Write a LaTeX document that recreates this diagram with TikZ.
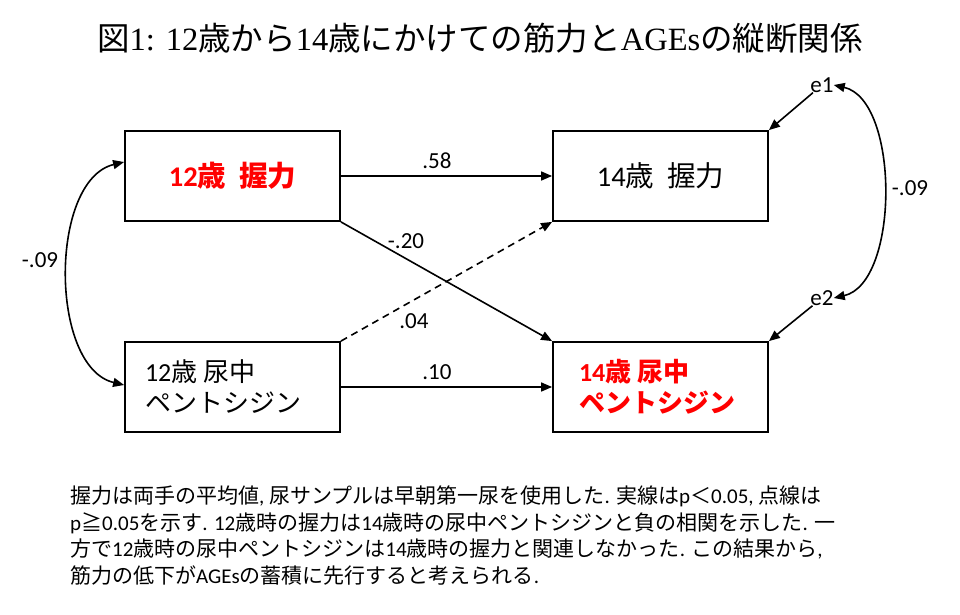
\documentclass[tikz,border=0pt]{standalone}
\usepackage{fontspec}
\setmainfont{Liberation Serif}
\newfontfamily\jp{Noto Sans CJK JP}
\newfontfamily\cl{Carlito}
\usetikzlibrary{arrows.meta,calc}
\newcommand\cw[1]{{\cl #1}}
\begin{document}
\begin{tikzpicture}[x=1pt,y=-1pt,
  box/.style={draw, line width=1.8pt, minimum width=215pt, minimum height=90pt, inner sep=0pt},
  conn/.style={line width=1.6pt, -{Triangle[length=11pt,width=9pt]}},
  biconn/.style={line width=1.6pt, {Triangle[length=11pt,width=9pt]}-{Triangle[length=11pt,width=9pt]}},
  lbl/.style={font=\cl\fontsize{23}{26}\selectfont, inner sep=0pt},
  boxtxt/.style={font=\jp\fontsize{26}{31}\selectfont},
  boxtxtb/.style={font=\jp\bfseries\fontsize{26}{31}\selectfont, text=red},
  boxbig/.style={font=\jp\fontsize{28.5}{31}\selectfont},
  boxbigb/.style={font=\jp\bfseries\fontsize{28.5}{31}\selectfont, text=red},
  captxt/.style={font=\jp\fontsize{21}{24}\selectfont, anchor=base west, inner sep=0pt}]
\useasboundingbox (0,0) rectangle (960,614);
\node[anchor=base, font=\fontsize{32.5}{36}\selectfont, inner sep=0pt] (title) at (480,50)
  {{\jp 図}1: 12{\jp 歳から}14{\jp 歳にかけての筋力と}AGEs{\jp の縦断関係}};
\node[box, boxbigb] (A) at (232.5,176) {{\cl 12}歳\hspace{0.45em}握力};
\node[box, boxbig] (B) at (660.5,176) {{\cl 14}歳\hspace{0.45em}握力};
\node[box, boxtxt, align=left, text width=175pt, inner xsep=20pt] (C) at (232.5,387)
  {{\cl 12}歳\hspace{0.25em}尿中\\ペントシジン};
\node[box, boxtxtb, align=left, text width=163pt, inner xsep=26pt] (D) at (660.5,387)
  {{\cl 14}歳\hspace{0.25em}尿中\\ペントシジン};
\node[lbl] (e1) at (822,85) {e1};
\node[lbl] (e2) at (822,298) {e2};
\draw[conn] (A.east) -- (B.west);
\draw[conn] (A.south east) -- (D.north west);
\draw[conn, dashed, dash pattern=on 7pt off 5pt] (C.north east) -- (B.south west);
\draw[conn] (C.east) -- (D.west);
\node[lbl] (l58) at (437,161) {.58};
\node[lbl] (l20) at (406,241) {-.20};
\node[lbl] (l04) at (414,321) {.04};
\node[lbl] (l10) at (437,372) {.10};
\draw[conn] (e1) -- (B.north east);
\draw[conn] (e2) -- (D.north east);
\draw[biconn] ($(A.west)+(0,-14)$) .. controls +(-75,18) and +(-75,-18) .. ($(C.west)+(0,-2)$);
\draw[biconn] (e1.east) .. controls +(66,15) and +(66,-15) .. (e2.east);
\node[lbl] (lL) at (40,260) {-.09};
\node[lbl] (lR) at (910,188) {-.09};
\node[captxt] (c1) at (70,503) {握力は両手の平均値\cw{, }尿サンプルは早朝第一尿を使用した\cw{. }実線は\cw{p}＜\cw{0.05, }点線は};
\node[captxt] (c2) at (70,530) {\cw{p}≧\cw{0.05}を示す\cw{. 12}歳時の握力は\cw{14}歳時の尿中ペントシジンと負の相関を示した\cw{. }一};
\node[captxt] (c3) at (70,556.5) {方で\cw{12}歳時の尿中ペントシジンは\cw{14}歳時の握力と関連しなかった\cw{. }この結果から\cw{,}};
\node[captxt] (c4) at (70,583) {筋力の低下が\cw{AGEs}の蓄積に先行すると考えられる\cw{.}};
\end{tikzpicture}
\end{document}
